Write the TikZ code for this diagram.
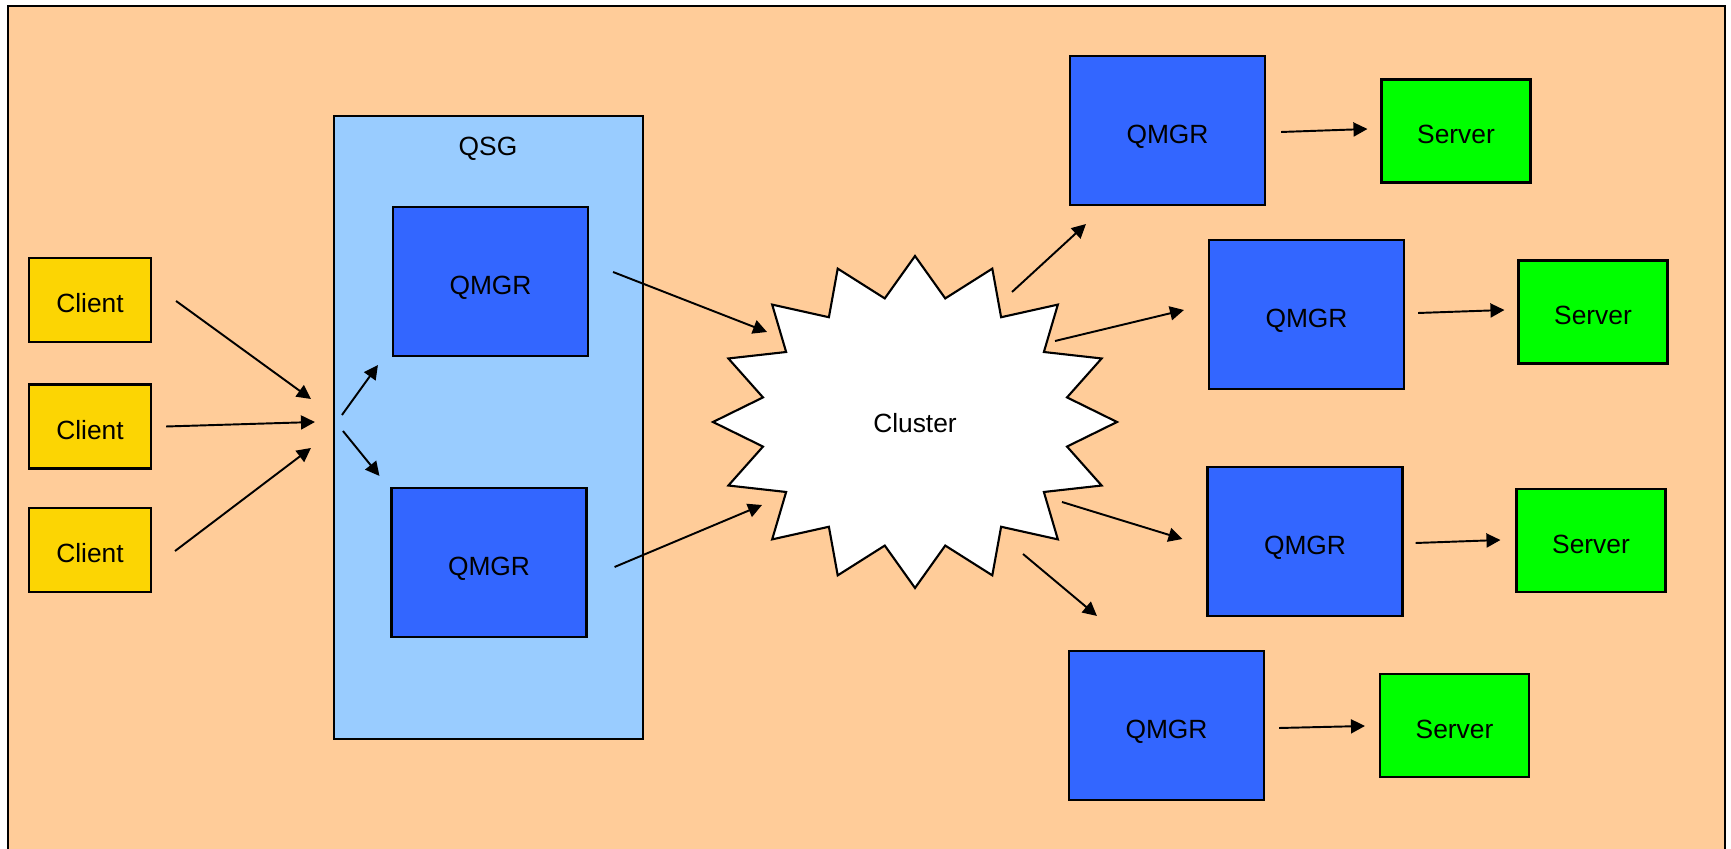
\documentclass[tikz,border=0pt]{standalone}
\usepackage{fontspec}
\setmainfont{Liberation Sans}
\usetikzlibrary{arrows.meta,calc}
\definecolor{peach}{HTML}{FFCC99}
\definecolor{qsgblue}{HTML}{99CCFF}
\definecolor{qmgrblue}{HTML}{3366FF}
\definecolor{clientgold}{HTML}{FCD503}
\definecolor{servergreen}{HTML}{00FF00}

\begin{document}
\begin{tikzpicture}[x=0.1mm,y=-0.1mm,
  font=\fontsize{7.5}{9}\selectfont,
  box/.style={draw=black,line width=0.6pt,inner sep=0pt,text height=7.4pt,text depth=0pt},
  client/.style={box,fill=clientgold,minimum width=12.2mm,minimum height=8.4mm},
  qmgr/.style={box,fill=qmgrblue,minimum width=19.5mm,minimum height=14.9mm},
  server/.style={box,fill=servergreen,minimum width=14.9mm,minimum height=10.3mm},
  arr/.style={-{Triangle[length=1.4mm,width=1.4mm]},line width=0.55pt}]
\useasboundingbox (0,0) rectangle (1731,849);
\draw[fill=peach,line width=0.6pt] (8,6) rectangle (1725,880);

% queue sharing group
\node[box,fill=qsgblue,minimum width=30.9mm,minimum height=62.3mm] (qsg) at (488.5,427.5) {};
\node[text height=7.4pt,text depth=0pt] (qsglbl) at (488,143) {QSG};
\node[qmgr] (qa) at (490.5,281.5) {QMGR};
\node[qmgr] (qb) at (489,562.5) {QMGR};

\node[client] (c1) at (90,300) {Client};
\node[client] (c2) at (90,426.5) {Client};
\node[client] (c3) at (90,550) {Client};

% cluster
\begin{scope}[shift={(915,422)}]
\draw[fill=white,line width=0.6pt] (90:202 and 166)
  \foreach \k in {0,...,15}{ -- ({78.75-\k*22.5}:155 and 126) -- ({67.5-\k*22.5}:202 and 166)} -- cycle;
\end{scope}
\node (cl) at (915,423) {Cluster};

\node[qmgr] (q1) at (1167.5,130.5) {QMGR};
\node[qmgr] (q2) at (1306.5,314.5) {QMGR};
\node[qmgr] (q3) at (1305,541.5) {QMGR};
\node[qmgr] (q4) at (1166.5,725.5) {QMGR};

\node[server] (s1) at (1456,131) {Server};
\node[server] (s2) at (1593,312) {Server};
\node[server] (s3) at (1591,540.5) {Server};
\node[server] (s4) at (1454.5,725.5) {Server};

\draw[arr] ($(c1.east)+(24,1)$) -- ($(qsg.west)+(-22,-28.5)$);
\draw[arr] ($(c2.east)+(14,0)$) -- ($(qsg.west)+(-18,-5.5)$);
\draw[arr] ($(c3.east)+(23,1)$) -- ($(qsg.west)+(-22,20.5)$);
\draw[arr] ($(qsg.west)+(9,-12.5)$) -- ($(qa.south west)+(-14,8)$);
\draw[arr] ($(qsg.west)+(10,3.5)$) -- ($(qb.north west)+(-11,-11)$);

\draw[arr] ($(qa.east)+(24,-9.5)$) -- ($(cl)+(-148,-91)$);
\draw[arr] ($(qb.east)+(27,4.5)$) -- ($(cl)+(-153,82)$);

\draw[arr] ($(cl)+(97,-131)$) -- ($(q1.south west)+(17,18)$);
\draw[arr] ($(cl)+(140,-82)$) -- ($(q2.west)+(-24,-4.5)$);
\draw[arr] ($(cl)+(147,79)$) -- ($(q3.west)+(-24,-2.5)$);
\draw[arr] ($(cl)+(108,131)$) -- ($(q4.north west)+(29,-34)$);

\draw[arr] ($(q1.east)+(15,1.5)$) -- ($(s1.west)+(-13,-2)$);
\draw[arr] ($(q2.east)+(13,-1.5)$) -- ($(s2.west)+(-13,-2)$);
\draw[arr] ($(q3.east)+(12,1.5)$) -- ($(s3.west)+(-15,-0.5)$);
\draw[arr] ($(q4.east)+(14,2.5)$) -- ($(s4.west)+(-14,0.5)$);
\end{tikzpicture}
\end{document}
